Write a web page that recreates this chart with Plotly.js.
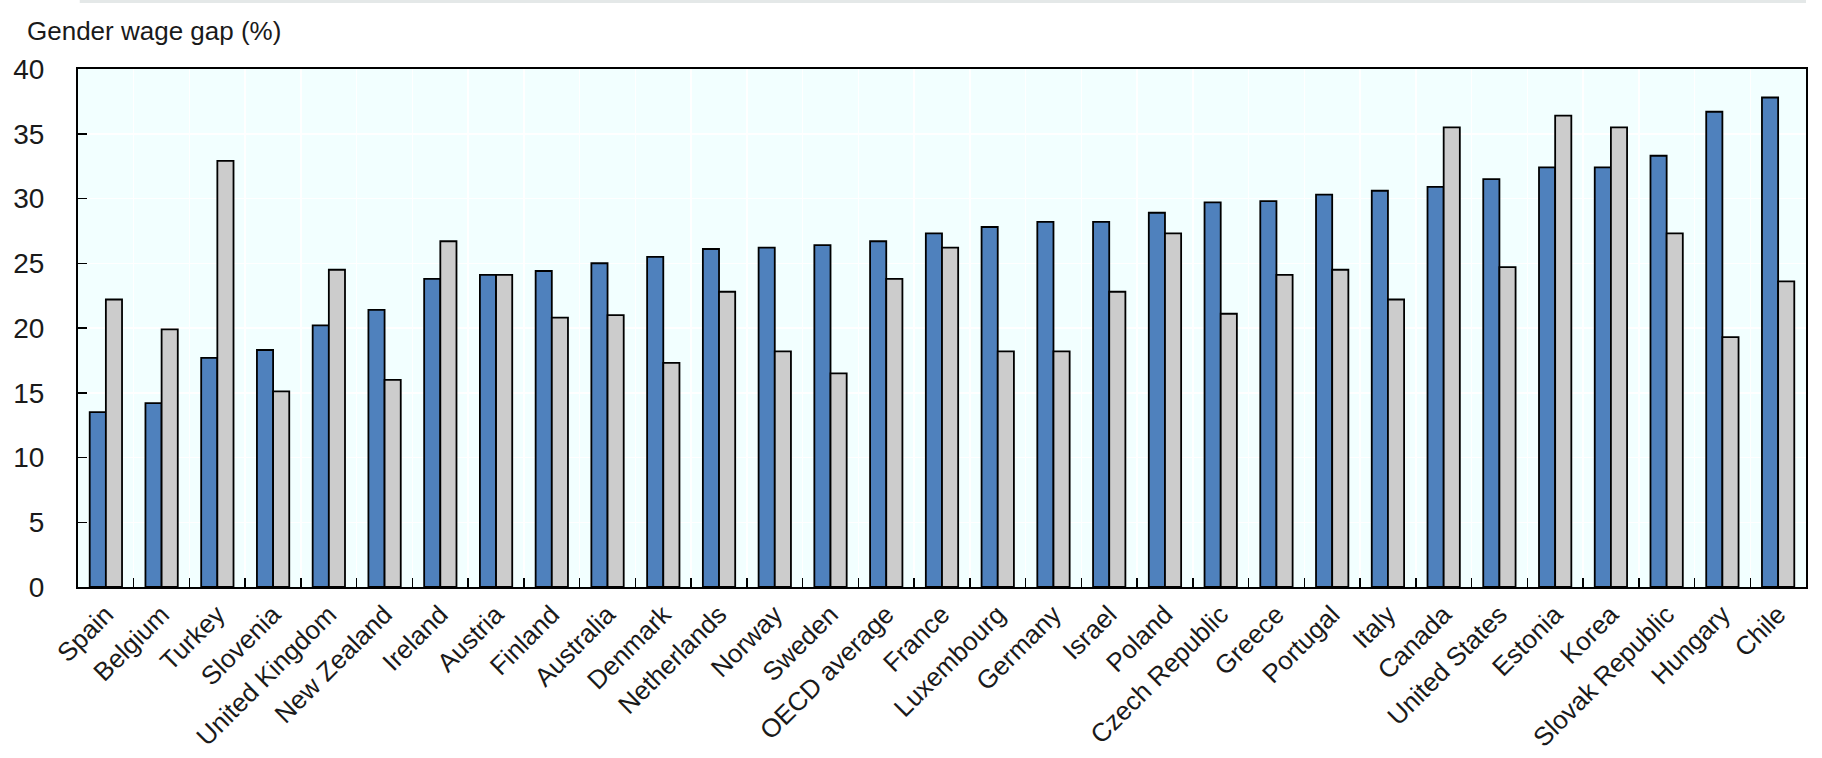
<!DOCTYPE html>
<html>
<head>
<meta charset="utf-8">
<script src="https://cdn.plot.ly/plotly-3.0.1.min.js"></script>
<style>
  html, body { margin: 0; padding: 0; background: #ffffff; }
  #chart { width: 1822px; height: 758px; }
</style>
</head>
<body>
<div id="chart"></div>
<script>
// gender wage gap by country, two series

var countries = ['Spain', 'Belgium', 'Turkey', 'Slovenia', 'United Kingdom', 'New Zealand',
  'Ireland', 'Austria', 'Finland', 'Australia', 'Denmark', 'Netherlands', 'Norway', 'Sweden',
  'OECD average', 'France', 'Luxembourg', 'Germany', 'Israel', 'Poland', 'Czech Republic',
  'Greece', 'Portugal', 'Italy', 'Canada', 'United States', 'Estonia', 'Korea',
  'Slovak Republic', 'Hungary', 'Chile'];

var blueValues = [13.5, 14.2, 17.7, 18.3, 20.2, 21.4, 23.8, 24.1, 24.4, 25.0, 25.5, 26.1, 26.2,
  26.4, 26.7, 27.3, 27.8, 28.2, 28.2, 28.9, 29.7, 29.8, 30.3, 30.6, 30.9, 31.5, 32.4, 32.4,
  33.3, 36.7, 37.8];

var greyValues = [22.2, 19.9, 32.9, 15.1, 24.5, 16.0, 26.7, 24.1, 20.8, 21.0, 17.3, 22.8, 18.2,
  16.5, 23.8, 26.2, 18.2, 18.2, 22.8, 27.3, 21.1, 24.1, 24.5, 22.2, 35.5, 24.7, 36.4, 35.5,
  27.3, 19.3, 23.6];

var yTicks = [0, 5, 10, 15, 20, 25, 30, 35, 40];

var fontFamily = '"Liberation Sans", Arial, sans-serif';

var trace1 = {
    x: countries,
    y: blueValues,
    type: 'bar',
    marker: {color: '#4f81bd', line: {color: '#000000', width: 1.8}},
    hoverinfo: 'x+y'
};

var trace2 = {
    x: countries,
    y: greyValues,
    type: 'bar',
    marker: {color: '#cccccc', line: {color: '#000000', width: 1.8}},
    hoverinfo: 'x+y'
};

var layout = {
    width: 1822,
    height: 758,
    barmode: 'group',
    bargap: 0.42,
    bargroupgap: 0,
    showlegend: false,
    paper_bgcolor: '#ffffff',
    plot_bgcolor: '#f2ffff',
    font: {family: fontFamily, color: '#1a1a1a'},
    margin: {l: 78, r: 16, t: 69, b: 171, pad: 0},
    title: {
        text: 'Gender wage gap (%)',
        font: {family: fontFamily, size: 26, color: '#1a1a1a'},
        xref: 'container',
        yref: 'container',
        x: 27 / 1822,
        xanchor: 'left',
        y: 1 - 31 / 758,
        yanchor: 'middle'
    },
    xaxis: {
        type: 'category',
        tickson: 'boundaries',
        ticks: 'inside',
        ticklen: 9,
        tickwidth: 1.5,
        tickcolor: '#000000',
        tickangle: -45,
        tickfont: {family: fontFamily, size: 26, color: '#1a1a1a'},
        showline: true,
        linecolor: '#000000',
        linewidth: 2,
        mirror: true,
        showgrid: true,
        gridcolor: '#ffffff',
        gridwidth: 1.5,
        zeroline: false
    },
    yaxis: {
        range: [0, 40],
        tickmode: 'array',
        tickvals: yTicks,
        ticktext: yTicks.map(String),
        ticks: 'inside',
        ticklen: 9,
        tickwidth: 1.5,
        tickcolor: '#000000',
        ticklabelstandoff: 26,
        tickfont: {family: fontFamily, size: 28, color: '#1a1a1a'},
        showline: true,
        linecolor: '#000000',
        linewidth: 2,
        mirror: true,
        showgrid: true,
        gridcolor: '#ffffff',
        gridwidth: 1.5,
        zeroline: false
    },
    shapes: [
        // thin grey strip along the top edge of the original figure
        {
            type: 'rect',
            xref: 'paper', yref: 'paper',
            x0: 0.001, x1: 1,
            y0: 1 + 66 / 518, y1: 1 + 69 / 518,
            line: {width: 0},
            fillcolor: '#e4e8e8',
            layer: 'above'
        }
    ]
};

Plotly.newPlot('chart', [trace1, trace2], layout, {displayModeBar: false, staticPlot: true});
</script>
</body>
</html>
